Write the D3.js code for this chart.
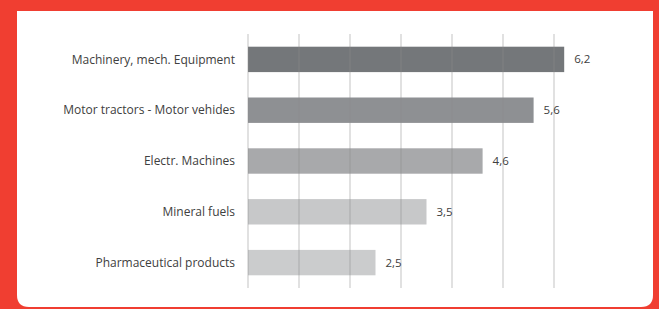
<!DOCTYPE html>
<html><head><meta charset="utf-8">
<script src="https://cdn.jsdelivr.net/npm/d3@7"></script>
<style>
html,body{margin:0;padding:0;background:#f03e31;}
svg{display:block;}
</style></head>
<body>
<svg id="c" width="659" height="309"></svg>
<script>
const categories = ["Machinery, mech. Equipment","Motor tractors - Motor vehides","Electr. Machines","Mineral fuels","Pharmaceutical products"];
const values = [6.2, 5.6, 4.6, 3.5, 2.5];
const valueLabels = ["6,2","5,6","4,6","3,5","2,5"];
const barColors = ["#74777a","#8e9093","#a8a9ab","#c7c8c9","#cbcccd"];
const gridTicks = [0,1,2,3,4,5,6];

const svg = d3.select("#c");
// white card
const L=17, T=11, R=653, B=307, r=12;
svg.append("path")
  .attr("d", `M${L},${T}H${R}V${B-r}Q${R},${B} ${R-r},${B}H${L+r}Q${L},${B} ${L},${B-r}Z`)
  .attr("fill","#fff");

const x = d3.scaleLinear().domain([0,6]).range([248,554]);
const y = d3.scaleBand().domain(categories).range([34,288]).paddingInner(0.5).paddingOuter(0.25);

svg.append("g").selectAll("rect").data(categories).join("rect")
  .attr("x", x(0))
  .attr("y", d=>y(d))
  .attr("width", (d,i)=>x(values[i])-x(0))
  .attr("height", y.bandwidth())
  .attr("fill",(d,i)=>barColors[i]);

svg.append("g").selectAll("line").data(gridTicks).join("line")
  .attr("x1", d=>x(d)).attr("x2", d=>x(d))
  .attr("y1",34).attr("y2",288)
  .attr("stroke","#8a8a8a").attr("stroke-opacity",0.35).attr("stroke-width",1.5);

svg.append("g").selectAll("text").data(categories).join("text")
  .attr("x",235).attr("y", d=>y(d)+y.bandwidth()/2)
  .attr("dy","0.35em").attr("text-anchor","end")
  .attr("font-family","Open Sans, sans-serif").attr("font-size",12)
  .attr("fill","#404040").text(d=>d);

svg.append("g").selectAll("text").data(categories).join("text")
  .attr("x",(d,i)=>x(values[i])+10).attr("y", d=>y(d)+y.bandwidth()/2)
  .attr("dy","0.35em")
  .attr("font-family","Open Sans, sans-serif").attr("font-size",11.5)
  .attr("fill","#404040").text((d,i)=>valueLabels[i]);
</script>
</body></html>
